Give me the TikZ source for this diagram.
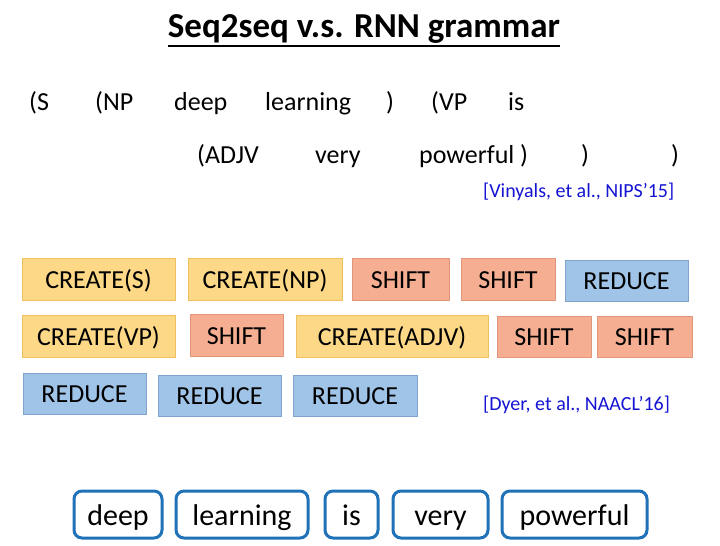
\documentclass[tikz,border=0pt]{standalone}
\usepackage{fontspec}
\setmainfont{Carlito}
\usetikzlibrary{calc}

\definecolor{createfill}{RGB}{253,216,134}
\definecolor{createline}{RGB}{238,192,96}
\definecolor{shiftfill}{RGB}{245,174,145}
\definecolor{shiftline}{RGB}{228,150,122}
\definecolor{reducefill}{RGB}{160,196,232}
\definecolor{reduceline}{RGB}{128,164,206}
\definecolor{wordline}{RGB}{31,113,184}
\definecolor{citeblue}{RGB}{20,20,210}

\tikzset{
    act/.style={inner sep=0pt,minimum height=42pt,text height=18pt,text depth=0pt,font=\fontsize{26}{30}\selectfont,line width=0.8pt},
    create/.style={act,fill=createfill,draw=createline},
    shiftop/.style={act,fill=shiftfill,draw=shiftline},
    reduce/.style={act,fill=reducefill,draw=reduceline},
    word/.style={draw=wordline,fill=white,line width=3pt,rounded corners=8pt,inner sep=0pt,minimum height=47pt,text height=21pt,text depth=0pt,font=\fontsize{30}{34}\selectfont},
    tree/.style={anchor=base west,inner sep=0pt,font=\fontsize{26}{30}\selectfont},
    cite/.style={anchor=base west,inner sep=0pt,text=citeblue,font=\fontsize{20}{24}\selectfont}
}

\begin{document}
\begin{tikzpicture}[x=1pt,y=-1pt]
    \useasboundingbox (0,0) rectangle (720,546);
    \node[anchor=base,inner sep=0pt,font=\fontsize{35}{40}\selectfont\bfseries] at (364,37) (title) {Seq2seq v.s. RNN grammar};
    \draw[line width=1.8pt] ([yshift=-9pt]title.base west) -- ([yshift=-9pt]title.base east);
    % bracketed tree
    \node[tree] at (29,110) (ls) {(S};
    \node[tree] at (95,110) (lnp) {(NP};
    \node[tree] at (174,110) (tdeep) {deep};
    \node[tree] at (265,110) (tlearning) {learning};
    \node[tree] at (386,110) (rnp) {)};
    \node[tree] at (431,110) (lvp) {(VP};
    \node[tree] at (508,110) (tis) {is};
    \node[tree] at (197,163) (ladjv) {(ADJV};
    \node[tree] at (315,163) (tvery) {very};
    \node[tree] at (419,163) (tpowerful) {powerful )};
    \node[tree] at (581,163) (rvp) {)};
    \node[tree] at (671,163) (rs) {)};
    \node[cite] at (483,197) (vinyals) {[Vinyals, et al., NIPS’15]};
    % actions
    \node[create,minimum width=153pt] at (98.5,279) (cs) {CREATE(S)};
    \node[create,minimum width=154pt] at (265,279) (cnp) {CREATE(NP)};
    \node[shiftop,minimum width=97pt] at (400.5,279) (sa) {SHIFT};
    \node[shiftop,minimum width=94pt] at (508,279) (sb) {SHIFT};
    \node[reduce,minimum width=123pt,minimum height=41pt] at (626.5,280.5) (ra) {REDUCE};
    \node[create,minimum width=153pt] at (98.5,336) (cvp) {CREATE(VP)};
    \node[shiftop,minimum width=93pt] at (236.5,335) (sc) {SHIFT};
    \node[create,minimum width=192pt] at (392,336) (cadjv) {CREATE(ADJV)};
    \node[shiftop,minimum width=94pt,minimum height=41pt] at (544,336.5) (sd) {SHIFT};
    \node[shiftop,minimum width=95pt,minimum height=41pt] at (644.5,336.5) (se) {SHIFT};
    \node[reduce,minimum width=123pt,minimum height=41pt] at (84.5,393.5) (rb) {REDUCE};
    \node[reduce,minimum width=123pt,minimum height=41pt] at (219.5,395.5) (rc) {REDUCE};
    \node[reduce,minimum width=124pt,minimum height=41pt] at (355,395.5) (rd) {REDUCE};
    \node[cite] at (483,410) (dyer) {[Dyer, et al., NAACL’16]};
    % input words
    \node[word,minimum width=88pt] at (118,514.5) (wdeep) {deep};
    \node[word,minimum width=132pt] at (242,514.5) (wlearning) {learning};
    \node[word,minimum width=53pt] at (351.5,514.5) (wis) {is};
    \node[word,minimum width=95pt] at (440.5,514.5) (wvery) {very};
    \node[word,minimum width=145pt] at (574.5,514.5) (wpowerful) {powerful};
\end{tikzpicture}
\end{document}
